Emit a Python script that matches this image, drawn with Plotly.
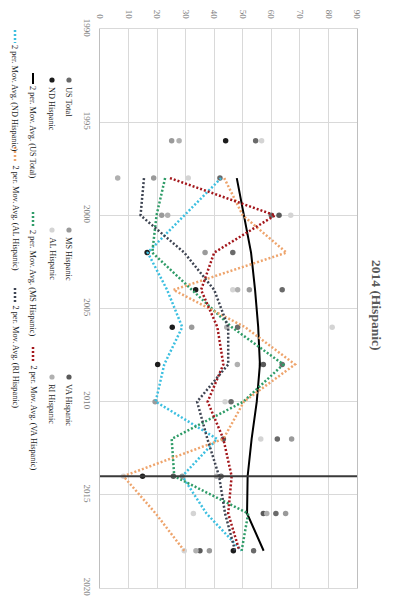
import plotly.graph_objects as go

# ---------------- data ----------------
years = [1996, 1998, 2000, 2002, 2004, 2006, 2008, 2010, 2012, 2014, 2016, 2018]
ma_years = [1998, 2000, 2002, 2004, 2006, 2008, 2010, 2012, 2014, 2016, 2018]

us_total = [54.5, 42.0, 60.0, 46.5, 63.8, 48.2, 63.8, 45.9, 62.1, 42.4, 61.6, 53.8]
nd_hisp = [44.0, None, None, 16.5, 33.5, 25.3, 20.2, None, None, 14.9, None, 46.7]
ms_hisp = [25.1, 18.8, 21.6, 36.8, 52.3, 32.1, None, 19.3, 67.1, 28.8, 65.0, 38.3]
al_hisp = [56.6, 30.9, 66.8, None, 46.5, 81.3, 56.3, 43.8, 56.3, 8.2, 32.7, 29.5]
va_hisp = [None, None, 62.7, None, None, None, 57.2, None, 43.2, 25.7, 57.2, 35.0]
ri_hisp = [27.7, 6.2, 23.7, None, 48.2, 44.4, 48.1, None, None, 40.8, 58.4, 33.6]

ma_us = [47.9, 50.4, 52.9, 54.3, 55.4, 56.0, 54.9, 53.1, 51.7, 51.5, 57.3]
ma_nd = [42.4, 29.5, 16.7, 23.5, 28.8, 22.5, 19.5, 41.0, 28.8, 37.3, 49.6]
ma_ms = [22.8, 19.8, 18.3, 32.1, 46.1, 64.2, 50.2, 25.1, 26.0, 51.9, 49.6]
ma_al = [43.5, 50.0, 65.3, 25.7, 50.8, 68.3, 50.4, 43.2, 8.2, 19.5, 29.5]
ma_va = [24.5, 61.3, 40.0, 35.4, 41.1, 43.2, 37.7, 43.2, 46.1, 44.9, 48.8]
ma_ri = [15.4, 14.2, 29.5, 40.0, 44.9, 44.9, 34.0, 37.6, 41.7, 43.8, 47.3]

event_year = 2014
value_ticks = [0, 10, 20, 30, 40, 50, 60, 70, 80, 90]
year_ticks = [1990, 1995, 2000, 2005, 2010, 2015, 2020]
title_text = "2014 (Hispanic)"

# ---------------- styling ----------------
W, H = 398, 607
L, R, T, B = 100, 357, 29, 588  # plot area in px
SERIF = "Liberation Serif"

def xp(px):
    return (px - L) / (R - L)

def yp(py):
    return (B - py) / (B - T)

point_series = [
    ("US Total", us_total, "#6a6a6a"),
    ("ND Hispanic", nd_hisp, "#1c1c1c"),
    ("MS Hispanic", ms_hisp, "#9a9a9a"),
    ("AL Hispanic", al_hisp, "#d4d4d4"),
    ("VA Hispanic", va_hisp, "#5a5a5a"),
    ("RI Hispanic", ri_hisp, "#b0b0b0"),
]
ma_series = [
    ("2 per. Mov. Avg. (US Total)", ma_us, "#000000", "solid", 2),
    ("2 per. Mov. Avg. (ND Hispanic)", ma_nd, "#3cbfe0", "2px,2px", 2.5),
    ("2 per. Mov. Avg. (MS Hispanic)", ma_ms, "#2f9c68", "2px,2px", 2.5),
    ("2 per. Mov. Avg. (AL Hispanic)", ma_al, "#eea46c", "2px,2px", 2.5),
    ("2 per. Mov. Avg. (VA Hispanic)", ma_va, "#a3161b", "2px,2px", 2.5),
    ("2 per. Mov. Avg. (RI Hispanic)", ma_ri, "#3e4452", "2px,2px", 2.5),
]

fig = go.Figure()

for name, vals, color in point_series:
    fig.add_trace(go.Scatter(x=vals, y=years, mode="markers", name=name,
                             marker=dict(size=5.5, color=color),
                             showlegend=False, cliponaxis=False))

for name, vals, color, dash, w in ma_series:
    fig.add_trace(go.Scatter(x=vals, y=ma_years, mode="lines", name=name,
                             line=dict(color=color, dash=dash, width=w),
                             showlegend=False))

# vertical event line (drawn horizontally in the rotated chart)
fig.add_shape(type="line", xref="x domain", yref="y", x0=0, x1=1,
              y0=event_year, y1=event_year,
              line=dict(color="#3a3a3a", width=2))

# ---------------- rotated legend ----------------
LEG_FONT = dict(family=SERIF, size=8.3, color="#262626")
shapes = []
annotations = []
legend_points = [
    (69, 80, 85, 0), (69, 230, 235, 2), (69, 377, 382, 4),
    (52, 80, 85, 1), (52, 230, 235, 3), (52, 377, 382, 5),
]
for cx, sy, ty, idx in legend_points:
    name, _, color = point_series[idx]
    r = 2.6
    shapes.append(dict(type="circle", xref="paper", yref="paper",
                       x0=xp(cx - r), x1=xp(cx + r), y0=yp(sy + r), y1=yp(sy - r),
                       fillcolor=color, line=dict(width=0)))
    annotations.append(dict(text=name, x=xp(cx), y=yp(ty), xref="paper", yref="paper",
                            showarrow=False, textangle=90, xanchor="center", yanchor="top",
                            font=LEG_FONT))

legend_lines = [
    (33, 73, 84, 84, 0), (33, 212, 228, 228, 2), (33, 347, 363, 363, 4),
    (15, 30, 43, 43, 1), (15, 147, 163, 163, 3), (15, 288, 303, 303, 5),
]
for cx, y0, y1, ty, idx in legend_lines:
    name, _, color, dash, w = ma_series[idx]
    shapes.append(dict(type="line", xref="paper", yref="paper",
                       x0=xp(cx), x1=xp(cx), y0=yp(y0), y1=yp(y1),
                       line=dict(color=color, width=w, dash=dash)))
    annotations.append(dict(text=name, x=xp(cx), y=yp(ty), xref="paper", yref="paper",
                            showarrow=False, textangle=90, xanchor="center", yanchor="top",
                            font=LEG_FONT))

# title (rotated)
annotations.append(dict(text="<b>" + title_text + "</b>", x=xp(377), y=yp(305),
                        xref="paper", yref="paper", showarrow=False, textangle=90,
                        xanchor="center", yanchor="middle",
                        font=dict(family=SERIF, size=13.5, color="#5a5a5a")))

for s in shapes:
    fig.add_shape(**s)

fig.update_layout(
    width=W, height=H,
    margin=dict(l=L, r=W - R, t=T, b=H - B, autoexpand=False),
    paper_bgcolor="white", plot_bgcolor="white",
    annotations=annotations,
    showlegend=False,
    xaxis=dict(range=[0, 90], tickvals=value_ticks, side="top", tickangle=90,
               showgrid=True, gridcolor="#d9d9d9", gridwidth=1, zeroline=False,
               showline=True, linecolor="#d9d9d9", mirror=True, automargin=False,
               tickfont=dict(family=SERIF, size=9, color="#808080"),
               ticks="", ticklabelstandoff=6),
    yaxis=dict(range=[2020, 1990], tickvals=year_ticks, tickangle=90,
               showgrid=True, gridcolor="#d9d9d9", gridwidth=1, zeroline=False,
               showline=True, linecolor="#bfbfbf", mirror=True, automargin=False,
               tickfont=dict(family=SERIF, size=9, color="#808080"),
               ticks="", ticklabelstandoff=4),
)

fig.write_html("out.html", config={"displayModeBar": False},
               post_script="document.body.style.margin='0';document.body.style.overflow='hidden';")
